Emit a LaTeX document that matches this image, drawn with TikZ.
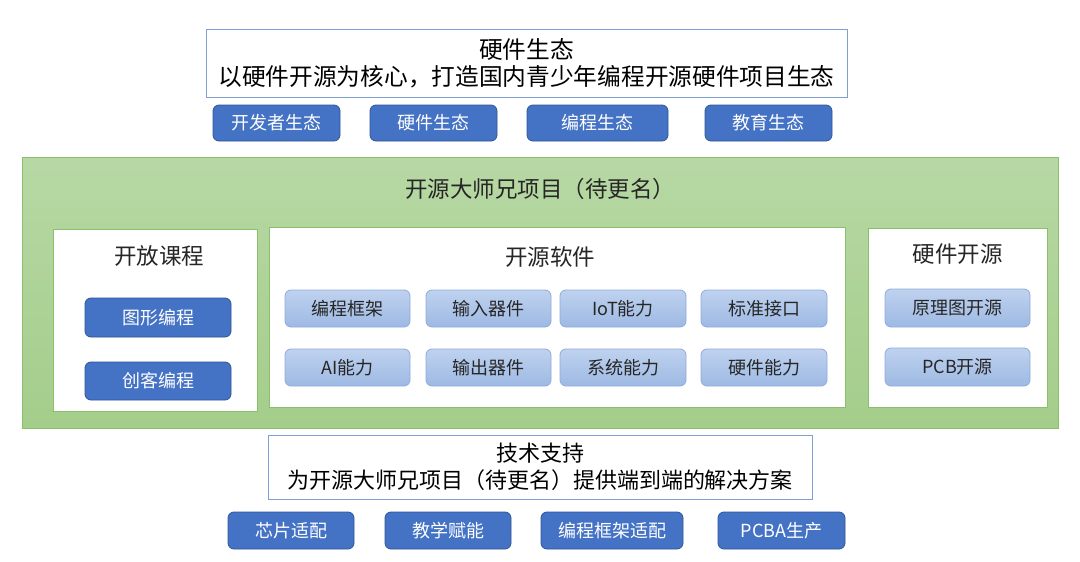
\documentclass[tikz,border=0pt]{standalone}
\usepackage{fontspec}
\setmainfont{Noto Sans CJK SC}
\definecolor{dblue}{HTML}{4472C4}
\definecolor{dblueb}{HTML}{2F5597}
\definecolor{lbtop}{HTML}{BFD2EF}
\definecolor{lbbot}{HTML}{9DB9E3}
\definecolor{lbb}{HTML}{8FAADC}
\definecolor{gtop}{HTML}{B7D8A4}
\definecolor{gbot}{HTML}{A4CD8B}
\definecolor{gb}{HTML}{8CBF6A}
\definecolor{obb}{HTML}{7F9FD0}
\definecolor{txt}{HTML}{262626}
\begin{document}
\begin{tikzpicture}[x=1pt,y=-1pt,
  dbox/.style={draw=dblueb, fill=dblue, line width=0.8pt, rounded corners=6pt, text=white, inner sep=0pt,
     font=\fontsize{18}{20}\selectfont},
  lbox/.style={draw=lbb, line width=0.8pt, rounded corners=6pt, top color=lbtop, bottom color=lbbot,
     text=txt, inner sep=0pt, font=\fontsize{18}{20}\selectfont},
  obox/.style={draw=obb, fill=white, line width=1pt, inner sep=0pt, text=black, align=center},
  wbox/.style={draw=gb, fill=white, line width=1pt, inner sep=0pt},
  ttl/.style={text=txt, inner sep=0pt, font=\fontsize{22.5}{25}\selectfont}
]
\useasboundingbox (0,0) rectangle (1080,562);
% top
\node[obox, minimum width=641, minimum height=68, font=\fontsize{23.7}{27}\selectfont] (top) at (526.5,63)
  {硬件生态\\以硬件开源为核心，打造国内青少年编程开源硬件项目生态};
\node[dbox, minimum width=127, minimum height=36] (t1) at (276.5,123) {开发者生态};
\node[dbox, minimum width=127, minimum height=36] (t2) at (433.5,123) {硬件生态};
\node[dbox, minimum width=141, minimum height=36] (t3) at (597.5,123) {编程生态};
\node[dbox, minimum width=127, minimum height=36] (t4) at (768.5,123) {教育生态};
% green
\node[draw=gb, line width=1pt, top color=gtop, bottom color=gbot, minimum width=1036, minimum height=271, inner sep=0pt] (green) at (540,292.5) {};
\node[ttl] (gt) at (540,189) {开源大师兄项目（待更名）};
% left
\node[wbox, minimum width=204, minimum height=182] (left) at (155,320) {};
\node[ttl] (lt) at (159,256) {开放课程};
\node[dbox, minimum width=146, minimum height=39] (l1) at (158,317.5) {图形编程};
\node[dbox, minimum width=146, minimum height=38] (l2) at (158,381) {创客编程};
% middle
\node[wbox, minimum width=576, minimum height=180] (mid) at (557,317) {};
\node[ttl] (mt) at (550,257) {开源软件};
\node[lbox, minimum width=125, minimum height=37] (m1) at (347.5,308.5) {编程框架};
\node[lbox, minimum width=125, minimum height=37] (m2) at (488.5,308.5) {输入器件};
\node[lbox, minimum width=126, minimum height=37] (m3) at (623,308.5) {IoT能力};
\node[lbox, minimum width=126, minimum height=37] (m4) at (764,308.5) {标准接口};
\node[lbox, minimum width=125, minimum height=37] (m5) at (347.5,367.5) {AI能力};
\node[lbox, minimum width=125, minimum height=37] (m6) at (488.5,367.5) {输出器件};
\node[lbox, minimum width=126, minimum height=37] (m7) at (623,367.5) {系统能力};
\node[lbox, minimum width=126, minimum height=37] (m8) at (764,367.5) {硬件能力};
% right
\node[wbox, minimum width=179, minimum height=179] (right) at (957.5,317.5) {};
\node[ttl] (rt) at (957.5,254) {硬件开源};
\node[lbox, minimum width=145, minimum height=38] (r1) at (957.5,308) {原理图开源};
\node[lbox, minimum width=145, minimum height=38] (r2) at (957.5,367) {PCB开源};
% bottom
\node[obox, minimum width=544, minimum height=64, font=\fontsize{22}{27}\selectfont] (bot) at (540,467)
  {技术支持\\为开源大师兄项目（待更名）提供端到端的解决方案};
\node[dbox, minimum width=126, minimum height=37] (b1) at (291,530.5) {芯片适配};
\node[dbox, minimum width=126, minimum height=37] (b2) at (448,530.5) {教学赋能};
\node[dbox, minimum width=142, minimum height=37] (b3) at (612,530.5) {编程框架适配};
\node[dbox, minimum width=127, minimum height=37] (b4) at (781.5,530.5) {PCBA生产};
\end{tikzpicture}
\end{document}
